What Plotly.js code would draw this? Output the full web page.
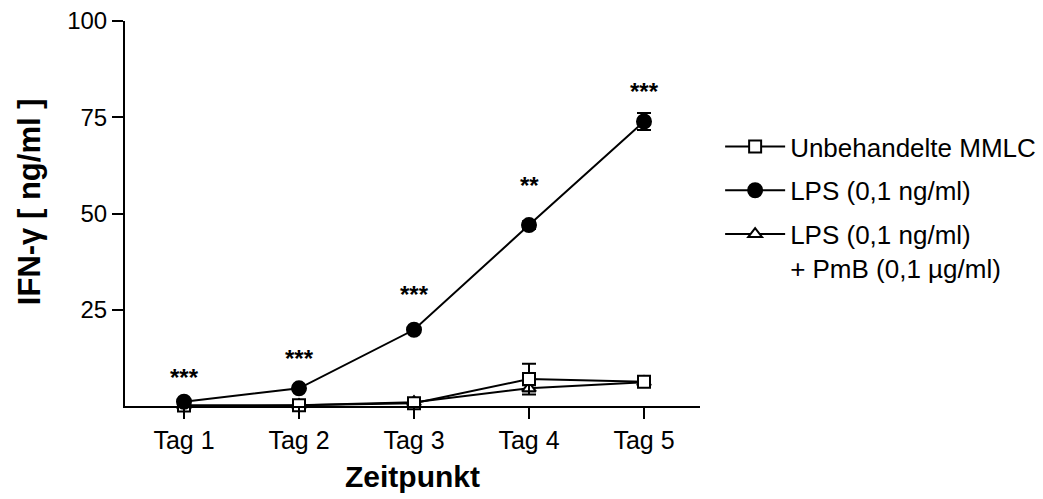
<!DOCTYPE html>
<html>
<head>
<meta charset="utf-8">
<script src="https://cdn.plot.ly/plotly-3.0.1.min.js"></script>
<style>html,body{margin:0;padding:0;background:#fff;}#chart{width:1043px;height:499px;}</style>
</head>
<body>
<div id="chart"></div>
<script>
// Categories and values
const days = ["Tag 1", "Tag 2", "Tag 3", "Tag 4", "Tag 5"];
const untreated = [0.1, 0.2, 0.7, 7.0, 6.3];
const untreatedErr = [0.1, 0.1, 0.3, 4.0, 0.4];
const lps = [1.1, 4.6, 19.8, 47.0, 73.9];
const lpsErr = [0.3, 0.3, 0.5, 1.0, 2.2];
const lpsPmb = [0.1, 0.2, 1.0, 4.6, 6.2];
const lpsPmbErr = [0.1, 0.1, 0.3, 0.8, 0.4];
const sigLabels = ["***", "***", "***", "**", "***"];
const sigY = [7.4, 12.3, 29.0, 57.2, 81.8];
const yTicks = [25, 50, 75, 100];
const names = ["Unbehandelte MMLC", "LPS (0,1 ng/ml)", "LPS (0,1 ng/ml)<br>+ PmB (0,1 µg/ml)"];

const FONT = "Liberation Sans, Arial, sans-serif";

function trace(y, err, name, symbol, fill, size, group) {
  return {
    x: days, y: y, name: name, type: "scatter", mode: "lines+markers",
    legendgroup: group,
    line: {color: "#000", width: 2},
    marker: {symbol: symbol, size: size, color: fill, line: {color: "#000", width: 2}},
    error_y: {type: "data", array: err, visible: true, color: "#000", thickness: 2, width: 7},
    cliponaxis: false
  };
}

const data = [
  trace(lpsPmb, lpsPmbErr, names[2], "triangle-up", "#fff", 12, "c"),
  trace(untreated, untreatedErr, names[0], "square", "#fff", 12, "a"),
  trace(lps, lpsErr, names[1], "circle", "#000", 14, "b")
];
data[0].legendrank = 3; data[1].legendrank = 1; data[2].legendrank = 2;

const annotations = days.map((d, i) => ({
  x: d, y: sigY[i], xref: "x", yref: "y", text: "<b>" + sigLabels[i] + "</b>", showarrow: false,
  font: {family: FONT, size: 24, color: "#000"}, yanchor: "middle"
}));
annotations.push({
  xref: "paper", yref: "paper", x: -0.167, y: 0.532, xanchor: "center", yanchor: "middle",
  text: "<b>IFN-γ [ ng/ml ]</b>", textangle: -90, showarrow: false,
  font: {family: FONT, size: 31, color: "#000"}
});

const layout = {
  width: 1043, height: 499,
  margin: {l: 125, r: 343, t: 21, b: 93, autoexpand: false},
  paper_bgcolor: "#fff", plot_bgcolor: "#fff",
  font: {family: FONT, color: "#000", size: 24},
  showlegend: true,
  legend: {
    x: 1.035, xanchor: "left", y: 0.735, yanchor: "top",
    font: {family: FONT, size: 26, color: "#000"},
    traceorder: "grouped", valign: "top", itemwidth: 60, tracegroupgap: 7,
    bgcolor: "rgba(0,0,0,0)"
  },
  xaxis: {
    type: "category", range: [-0.513, 4.487],
    showline: true, linecolor: "#000", linewidth: 2, mirror: false,
    ticks: "outside", ticklen: 11, tickwidth: 2, tickcolor: "#000",
    showgrid: false, zeroline: false,
    tickfont: {family: FONT, size: 25},
    title: {text: "<b>Zeitpunkt</b>", font: {family: FONT, size: 30}, standoff: 13}
  },
  yaxis: {
    range: [0, 100], tickvals: yTicks, ticktext: yTicks.map(String),
    showline: true, linecolor: "#000", linewidth: 2,
    ticks: "outside", ticklen: 11, tickwidth: 2, tickcolor: "#000",
    showgrid: false, zeroline: false,
    tickfont: {family: FONT, size: 24}
  },
  annotations: annotations
};

Plotly.newPlot("chart", data, layout, {displayModeBar: false, staticPlot: true});
</script>
</body>
</html>
